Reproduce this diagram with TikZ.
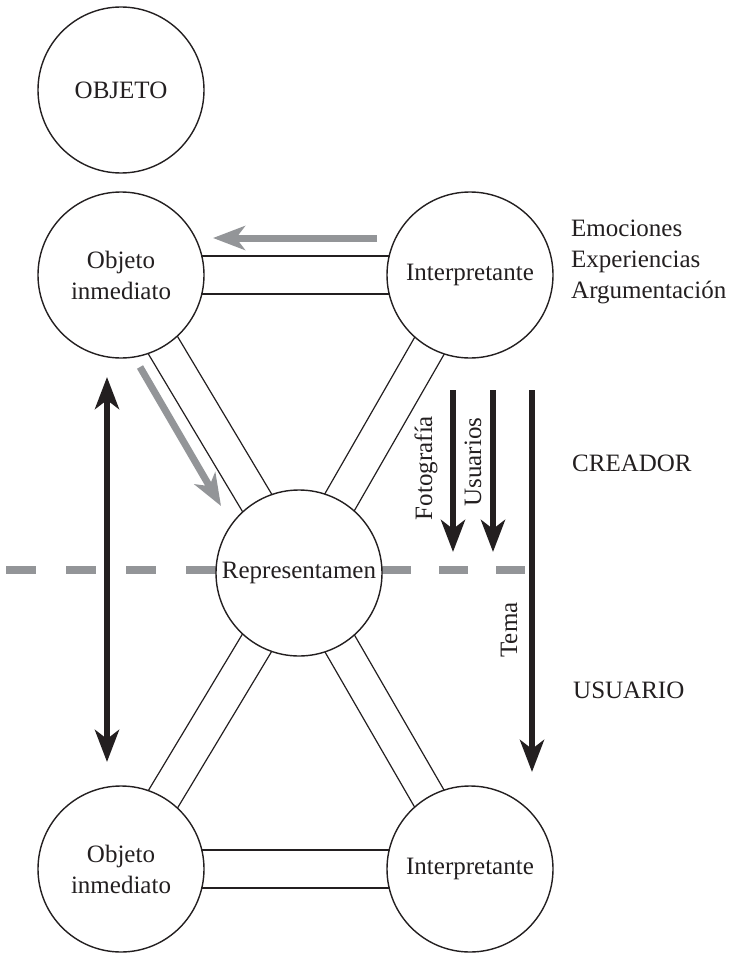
\documentclass[tikz,border=0pt]{standalone}
\usepackage{fontspec}
\setmainfont{Liberation Serif}
\usetikzlibrary{arrows.meta,calc,backgrounds}
\definecolor{ink}{HTML}{231F20}
\definecolor{shade}{HTML}{939598}
% two parallel rails joining the centres of two circles
\newcommand\railpair[3]{%
  \draw[rail] ($(#1)!#3!90:(#2)$) -- ($(#2)!#3!-90:(#1)$);
  \draw[rail] ($(#1)!#3!-90:(#2)$) -- ($(#2)!#3!90:(#1)$);}
\begin{document}
\begin{tikzpicture}[x=1pt,y=-1pt,
  >={Stealth[length=32pt,width=24pt,inset=9pt]},
  sign/.style={circle,draw=ink,line width=1.4pt,fill=white,minimum size=166pt,
    inner sep=0pt,align=center,text=ink,font=\fontsize{25}{31}\selectfont},
  rail/.style={draw=ink,line width=1.2pt},
  flow/.style={draw=ink,line width=6pt},
  hint/.style={draw=shade,line width=7pt,->},
  divider/.style={draw=shade,line width=8pt},
  lbl/.style={font=\fontsize{25}{31}\selectfont,text=ink,inner sep=0pt},
]
\useasboundingbox (0,0) rectangle (732,955);

% circles
\node[sign] (obj)  at (121,90)  {OBJETO};
\node[sign] (oi1)  at (121,275) {Objeto\\inmediato};
\node[sign] (int1) at (470,275) {Interpretante};
\node[sign] (rep)  at (299,573) {Representamen};
\node[sign] (oi2)  at (121,869) {Objeto\\inmediato};
\node[sign] (int2) at (470,869) {Interpretante};

% rails and dividing line behind the circles
\begin{scope}[on background layer]
  \railpair{oi1}{int1}{19pt}
  \railpair{oi2}{int2}{19pt}
  \railpair{oi1}{rep}{17pt}
  \railpair{int1}{rep}{17pt}
  \railpair{rep}{oi2}{17pt}
  \railpair{rep}{int2}{17pt}
  \coordinate (dl1) at (6,570);   \coordinate (dl2) at (216,570);
  \coordinate (dr1) at (382,570); \coordinate (dr2) at (526,570);
  \draw[divider,dash pattern=on 30pt off 30pt] (dl1) -- (dl2);
  \draw[divider,dash pattern=on 29pt off 28pt] (dr1) -- (dr2);
\end{scope}

% grey arrows
\coordinate (g1s) at (377,238); \coordinate (g1e) at (213,238);
\coordinate (g2s) at (140,367); \coordinate (g2e) at (221,506);
\draw[hint] (g1s) -- (g1e);
\draw[hint] (g2s) -- (g2e);

% black arrows
\coordinate (v1s) at (107,377); \coordinate (v1e) at (107,762);
\draw[flow,<->] (v1s) -- (v1e);
\coordinate (fs) at (453,390); \coordinate (fe) at (453,552);
\coordinate (us) at (493,390); \coordinate (ue) at (493,552);
\coordinate (ts) at (532,390); \coordinate (te) at (532,772);
\draw[flow,->] (fs) -- (fe);
\draw[flow,->] (us) -- (ue);
\draw[flow,->] (ts) -- (te);

% arrow labels
\node[lbl,rotate=90] (lf) at (426,468) {Fotografía};
\node[lbl,rotate=90] (lu) at (473,462) {Usuarios};
\node[lbl,rotate=90] (lt) at (509,630) {Tema};

% side texts
\node[lbl,anchor=west,align=left] (emo) at (571,262) {Emociones\\Experiencias\\Argumentación};
\node[lbl,anchor=west] (cre) at (572,463) {CREADOR};
\node[lbl,anchor=west] (usu) at (573,690) {USUARIO};
\end{tikzpicture}
\end{document}
